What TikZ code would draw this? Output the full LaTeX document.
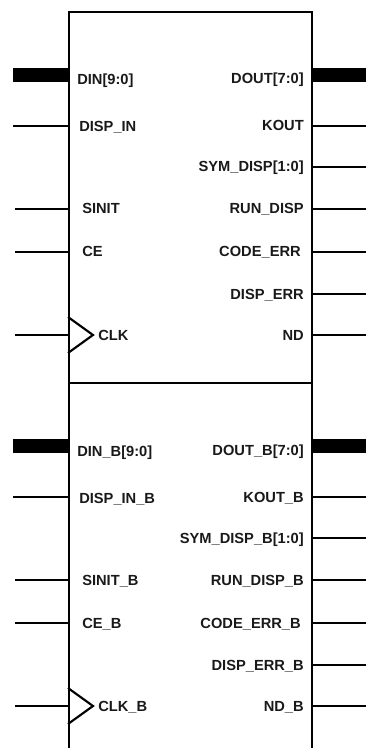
\documentclass[tikz,border=0pt]{standalone}
\usepackage{fontspec}
\setmainfont{Liberation Sans}

\tikzset{
  core/.style={draw, line width=1.5pt, inner sep=0pt, anchor=north west,
               minimum width=182.25pt, minimum height=278.25pt},
  wire/.style={line width=0.9pt},
  busline/.style={line width=9.8pt},
  clkmark/.style={line width=1.6pt, line join=miter},
  sig/.style={font=\fontsize{11}{13}\selectfont\bfseries, text=black!90, inner sep=0pt},
  lsig/.style={sig, anchor=base west},
  rsig/.style={sig, anchor=base east}
}

\begin{document}
\begin{tikzpicture}[x=0.75pt, y=-0.75pt]

\clip (0,0) rectangle (366,748);

%% -- Channel A (top) ------------------------
\node[core] (coreA) at (68,11) {};

  % inputs
  \node[lsig] (dinA)   at (77,85)  {DIN[9:0]};
  \node[lsig] (dispinA) at (79,132) {DISP\_IN};
  \node[lsig] (sinitA) at (82,214) {SINIT};
  \node[lsig] (ceA)    at (82,257) {CE};
  \node[lsig] (clkA)   at (98,340) {CLK};
  \coordinate (dinA-w)    at (13,75);  \draw[busline] (dinA-w) -- (dinA-w -| coreA.west);
  \coordinate (dispinA-w) at (13,126); \draw[wire] (dispinA-w) -- (dispinA-w -| coreA.west);
  \coordinate (sinitA-w)  at (15,209); \draw[wire] (sinitA-w) -- (sinitA-w -| coreA.west);
  \coordinate (ceA-w)     at (15,252); \draw[wire] (ceA-w) -- (ceA-w -| coreA.west);
  \coordinate (clkA-w)    at (15,335); \draw[wire] (clkA-w) -- (clkA-w -| coreA.west);
  \draw[clkmark] (68,317) -- (93,335) -- (68,353);

  % outputs
  \node[rsig] (doutA)    at (304,84)  {DOUT[7:0]};
  \node[rsig] (koutA)    at (304,131) {KOUT};
  \node[rsig] (symA)     at (304,172) {SYM\_DISP[1:0]};
  \node[rsig] (runA)     at (304,214) {RUN\_DISP};
  \node[rsig] (codeA)    at (301,257) {CODE\_ERR};
  \node[rsig] (disperrA) at (304,299) {DISP\_ERR};
  \node[rsig] (ndA)      at (304,340) {ND};
  \coordinate (doutA-e)    at (366,75);  \draw[busline] (coreA.east |- doutA-e) -- (doutA-e);
  \coordinate (koutA-e)    at (366,126); \draw[wire] (coreA.east |- koutA-e) -- (koutA-e);
  \coordinate (symA-e)     at (366,167); \draw[wire] (coreA.east |- symA-e) -- (symA-e);
  \coordinate (runA-e)     at (366,209); \draw[wire] (coreA.east |- runA-e) -- (runA-e);
  \coordinate (codeA-e)    at (366,252); \draw[wire] (coreA.east |- codeA-e) -- (codeA-e);
  \coordinate (disperrA-e) at (366,294); \draw[wire] (coreA.east |- disperrA-e) -- (disperrA-e);
  \coordinate (ndA-e)      at (366,335); \draw[wire] (coreA.east |- ndA-e) -- (ndA-e);

%% -- Channel B (bottom) ---------------------
\begin{scope}[shift={(0,371)}]

\node[core] (coreB) at (68,11) {};

  % inputs
  \node[lsig] (dinB)   at (77,85)  {DIN\_B[9:0]};
  \node[lsig] (dispinB) at (79,132) {DISP\_IN\_B};
  \node[lsig] (sinitB) at (82,214) {SINIT\_B};
  \node[lsig] (ceB)    at (82,257) {CE\_B};
  \node[lsig] (clkB)   at (98,340) {CLK\_B};
  \coordinate (dinB-w)    at (13,75);  \draw[busline] (dinB-w) -- (dinB-w -| coreB.west);
  \coordinate (dispinB-w) at (13,126); \draw[wire] (dispinB-w) -- (dispinB-w -| coreB.west);
  \coordinate (sinitB-w)  at (15,209); \draw[wire] (sinitB-w) -- (sinitB-w -| coreB.west);
  \coordinate (ceB-w)     at (15,252); \draw[wire] (ceB-w) -- (ceB-w -| coreB.west);
  \coordinate (clkB-w)    at (15,335); \draw[wire] (clkB-w) -- (clkB-w -| coreB.west);
  \draw[clkmark] (68,317) -- (93,335) -- (68,353);

  % outputs
  \node[rsig] (doutB)    at (304,84)  {DOUT\_B[7:0]};
  \node[rsig] (koutB)    at (304,131) {KOUT\_B};
  \node[rsig] (symB)     at (304,172) {SYM\_DISP\_B[1:0]};
  \node[rsig] (runB)     at (304,214) {RUN\_DISP\_B};
  \node[rsig] (codeB)    at (301,257) {CODE\_ERR\_B};
  \node[rsig] (disperrB) at (304,299) {DISP\_ERR\_B};
  \node[rsig] (ndB)      at (304,340) {ND\_B};
  \coordinate (doutB-e)    at (366,75);  \draw[busline] (coreB.east |- doutB-e) -- (doutB-e);
  \coordinate (koutB-e)    at (366,126); \draw[wire] (coreB.east |- koutB-e) -- (koutB-e);
  \coordinate (symB-e)     at (366,167); \draw[wire] (coreB.east |- symB-e) -- (symB-e);
  \coordinate (runB-e)     at (366,209); \draw[wire] (coreB.east |- runB-e) -- (runB-e);
  \coordinate (codeB-e)    at (366,252); \draw[wire] (coreB.east |- codeB-e) -- (codeB-e);
  \coordinate (disperrB-e) at (366,294); \draw[wire] (coreB.east |- disperrB-e) -- (disperrB-e);
  \coordinate (ndB-e)      at (366,335); \draw[wire] (coreB.east |- ndB-e) -- (ndB-e);

\end{scope}

\end{tikzpicture}
\end{document}
